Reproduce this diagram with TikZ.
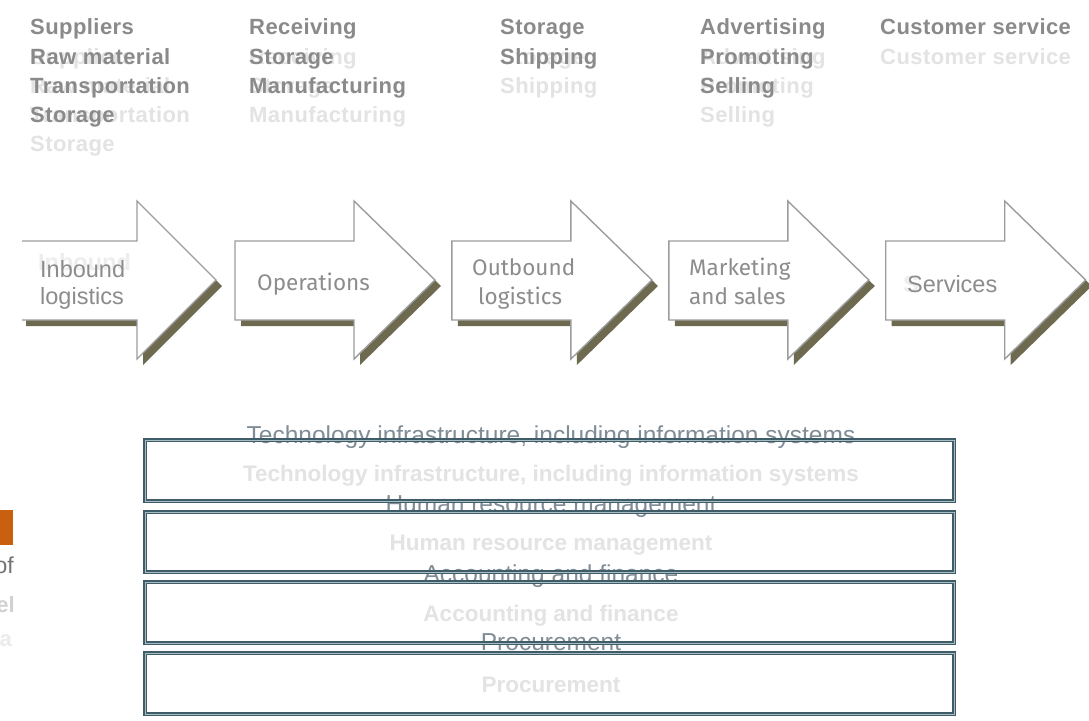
\documentclass[tikz,border=0pt]{standalone}
\usepackage{fontspec}
\setmainfont{Liberation Sans}
\newfontfamily\topfont[LetterSpace=2]{Liberation Sans}
\newfontfamily\dinfont{Fira Sans}
\definecolor{topgray}{HTML}{8A8A8A}
\definecolor{ghostc}{HTML}{E3E3E3}
\definecolor{faintc}{HTML}{EDEDED}
\definecolor{shadowc}{HTML}{6E6A4F}
\definecolor{outc}{HTML}{9C9C9C}
\definecolor{lblc}{HTML}{8C8C8C}
\definecolor{boxc}{HTML}{3F5D68}
\definecolor{boxin}{HTML}{A9BCC2}
\definecolor{suptc}{HTML}{808D97}
\definecolor{orangec}{HTML}{C8600F}
\tikzset{
  toptxt/.style={anchor=base west, inner sep=0pt, text=topgray,
    font=\topfont\bfseries\fontsize{22}{26}\selectfont},
  topghost/.style={toptxt, text=ghostc},
  arrowshape/.style={fill=white, draw=outc, line width=1.4pt, line join=miter},
  arrowshadow/.style={fill=shadowc},
  lbl/.style={anchor=base west, inner sep=0pt, text=lblc,
    font=\fontsize{23.5}{27}\selectfont},
  dinlbl/.style={anchor=base west, inner sep=0pt, text=lblc,
    font=\dinfont\fontsize{22.5}{27}\selectfont},
  lblghost/.style={lbl, text=faintc, font=\bfseries\fontsize{23.5}{27}\selectfont},
  supbox/.style={draw=boxc, double=boxin, double distance=1pt, line width=1.6pt},
  suptxt/.style={anchor=base, inner sep=0pt, text=suptc,
    font=\fontsize{24.5}{28}\selectfont},
  supghost/.style={anchor=base, inner sep=0pt, text=ghostc,
    font=\bfseries\fontsize{22.5}{26}\selectfont},
}
\begin{document}
\begin{tikzpicture}[x=1pt,y=-1pt]
\useasboundingbox (0,0) rectangle (1089,720);
\clip (0,0) rectangle (1089,720);
\fill[white] (0,0) rectangle (1089,720);

% ---------- top activity lists: ghosts first ----------
\node[topghost] (g11) at (30,64) {Suppliers};
\node[topghost] (g12) at (30,93) {Raw material};
\node[topghost] (g13) at (30,122) {Transportation};
\node[topghost] (g14) at (30,151) {Storage};
\node[topghost] (g21) at (249,64) {Receiving};
\node[topghost] (g22) at (249,93) {Storage};
\node[topghost] (g23) at (249,122) {Manufacturing};
\node[topghost] (g31) at (500,64) {Storage};
\node[topghost] (g32) at (500,93) {Shipping};
\node[topghost] (g41) at (700,64) {Advertising};
\node[topghost] (g42) at (700,93) {Promoting};
\node[topghost] (g43) at (700,122) {Selling};
\node[topghost] (g51) at (880,64) {Customer service};

\node[toptxt] (t11) at (30,34) {Suppliers};
\node[toptxt] (t12) at (30,64) {Raw material};
\node[toptxt] (t13) at (30,93) {Transportation};
\node[toptxt] (t14) at (30,122) {Storage};
\node[toptxt] (t21) at (249,34) {Receiving};
\node[toptxt] (t22) at (249,64) {Storage};
\node[toptxt] (t23) at (249,93) {Manufacturing};
\node[toptxt] (t31) at (500,34) {Storage};
\node[toptxt] (t32) at (500,64) {Shipping};
\node[toptxt] (t41) at (700,34) {Advertising};
\node[toptxt] (t42) at (700,64) {Promoting};
\node[toptxt] (t43) at (700,93) {Selling};
\node[toptxt] (t51) at (880,34) {Customer service};

% ---------- primary activity arrows ----------
% shadows
\fill[arrowshadow,shift={(6,6)}] (22,241) -- (137,241) -- (137,201) -- (216,280)
  -- (137,359) -- (137,320) -- (20,320) -- cycle;
\foreach \L in {235,451.9,668.8,885.7}{
  \fill[arrowshadow,shift={(6,6)}] (\L,241) -- ({\L+119},241) -- ({\L+119},201)
    -- ({\L+200},280) -- ({\L+119},359) -- ({\L+119},320) -- (\L,320) -- cycle;
}
% first arrow (left end open)
\fill[white] (22,241) -- (137,241) -- (137,201) -- (216,280)
  -- (137,359) -- (137,320) -- (22,320) -- cycle;
\draw[draw=outc, line width=1.4pt, line join=miter] (22,241) -- (137,241) -- (137,201) -- (216,280)
  -- (137,359) -- (137,320) -- (22,320);
\foreach \L in {235,451.9,668.8,885.7}{
  \draw[arrowshape] (\L,241) -- ({\L+119},241) -- ({\L+119},201)
    -- ({\L+200},280) -- ({\L+119},359) -- ({\L+119},320) -- (\L,320) -- cycle;
}
% labels
\node[lblghost] (gin) at (38,270) {Inbound};
\node[lbl] (in1) at (40,277) {Inbound};
\node[lbl] (in2) at (40,304) {logistics};
\node[dinlbl] (op) at (257,290) {Operations};
\node[dinlbl] (ob1) at (472,275) {Outbound};
\node[dinlbl] (ob2) at (478,304) {logistics};
\node[dinlbl] (ms1) at (689,275) {Marketing};
\node[dinlbl] (ms2) at (689,304) {and sales};
\node[lblghost] (gsv) at (903,292) {S};
\node[lbl] (sv) at (907,292) {Services};

% ---------- left edge fragment ----------
\fill[orangec] (0,510) rectangle (13,545);
\node[anchor=base east, inner sep=0pt, text=black!55, font=\fontsize{23}{27}\selectfont] (of) at (14,573) {of};
\node[anchor=base east, inner sep=0pt, text=black!18, font=\bfseries\fontsize{22}{27}\selectfont] (fr1) at (15,612) {el};
\node[anchor=base east, inner sep=0pt, text=black!8, font=\bfseries\fontsize{22}{27}\selectfont] (fr2) at (12,646) {a};

% ---------- support activities ----------
\node[supghost] (s1g) at (551,481) {Technology infrastructure, including information systems};
\node[supghost] (s2g) at (551,550) {Human resource management};
\node[supghost] (s3g) at (551,621) {Accounting and finance};
\node[supghost] (s4g) at (551,692) {Procurement};
\node[suptxt] (s1) at (551,443) {Technology infrastructure, including information systems};
\node[suptxt] (s2) at (551,512) {Human resource management};
\node[suptxt] (s3) at (551,582) {Accounting and finance};
\node[suptxt] (s4) at (551,650) {Procurement};
\draw[supbox] (145,440) rectangle (954,501);
\draw[supbox] (145,512) rectangle (954,572);
\draw[supbox] (145,582) rectangle (954,643);
\draw[supbox] (145,653) rectangle (954,714);
\end{tikzpicture}
\end{document}
